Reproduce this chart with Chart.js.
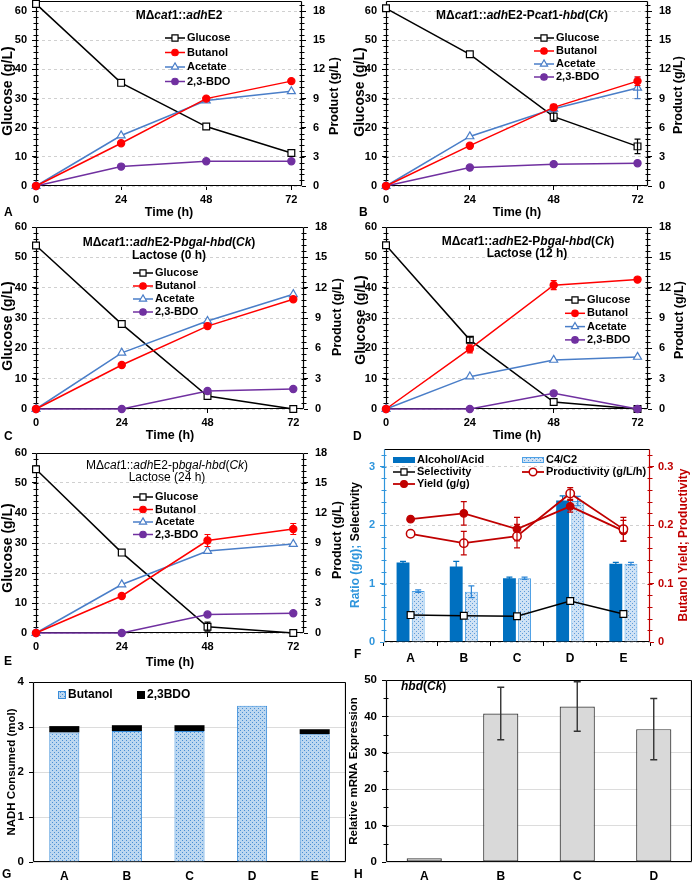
<!DOCTYPE html>
<html lang="en">
<head>
<meta charset="utf-8">
<title>Fermentaciones MΔcat1</title>
<script src="https://cdn.jsdelivr.net/npm/chart.js@4.4.1/dist/chart.umd.min.js"></script>
<style>
  html, body { margin: 0; padding: 0; background: #fff; }
  body { position: relative; width: 692px; height: 881px; overflow: hidden; }
  canvas { position: absolute; }
</style>
</head>
<body>
<script>
const FUENTE = '"Liberation Sans", Arial, Helvetica, sans-serif';

/* DATOS */
const tiempos = [0, 24, 48, 72];

// A: MΔcat1::adhE2
const glucosaA = [62.5, 35.4, 20.4, 11.3];
const butanolA = [0, 4.4, 9.0, 10.8];
const acetatoA = [0, 5.2, 8.8, 9.75];
const bdoA = [0, 2.0, 2.55, 2.55];

// B: MΔcat1::adhE2-Pcat1-hbd(Ck)
const glucosaB = [61.0, 45.2, 23.8, 13.6];
const errGlucosaB = [0, 0, 1.6, 2.5];
const butanolB = [0, 4.15, 8.1, 10.8];
const errButanolB = [0, 0, 0.3, 0.45];
const acetatoB = [0, 5.1, 7.95, 10.1];
const errAcetatoB = [0, 0, 0.3, 1.1];
const bdoB = [0, 1.9, 2.25, 2.35];

// C: Lactose (0 h)
const glucosaC = [53.9, 28.0, 4.3, 0];
const butanolC = [0, 4.35, 8.2, 10.85];
const acetatoC = [0, 5.55, 8.7, 11.35];
const bdoC = [0, 0, 1.78, 1.98];

// D: Lactose (12 h)
const glucosaD = [54.0, 22.8, 2.3, 0];
const errGlucosaD = [0, 0.9, 0, 0];
const butanolD = [0, 5.95, 12.25, 12.8];
const errButanolD = [0, 0.4, 0.45, 0];
const acetatoD = [0, 3.2, 4.85, 5.15];
const bdoD = [0, 0, 1.55, 0];

// E: Lactose (24 h)
const glucosaE = [54.6, 26.8, 2.1, 0];
const errGlucosaE = [0, 0, 1.5, 0];
const butanolE = [0, 3.7, 9.25, 10.4];
const errButanolE = [0, 0, 0.6, 0.55];
const acetatoE = [0, 4.85, 8.2, 8.9];
const bdoE = [0, 0, 1.85, 1.97];

// F: relaciones, selectividad, rendimiento y productividad
const cepas = ['A', 'B', 'C', 'D', 'E'];
const alcoholAcido = [1.36, 1.29, 1.09, 2.42, 1.34];
const errAlcoholAcido = [0.02, 0.09, 0.02, 0.08, 0.02];
const c4c2 = [0.87, 0.86, 1.09, 2.41, 1.34];
const errC4c2 = [0.02, 0.1, 0.02, 0.08, 0.02];
const selectividad = [0.46, 0.45, 0.44, 0.70, 0.48];
const rendimiento = [0.21, 0.22, 0.193, 0.232, 0.19];
const errRendimiento = [0, 0.02, 0.02, 0.01, 0.018];
const productividad = [0.185, 0.169, 0.181, 0.254, 0.193];
const errProductividad = [0, 0.02, 0.02, 0.01, 0.02];

// G: NADH consumido
const nadhButanol = [2.88, 2.91, 2.91, 3.47, 2.84];
const nadhBdo = [0.14, 0.13, 0.13, 0, 0.11];

// H: expresion relativa hbd(Ck)
const cepasH = ['A', 'B', 'C', 'D'];
const expresion = [1.0, 40.8, 42.7, 36.5];
const errExpresion = [0, 7.2, 6.8, 8.4];

/* ESTILOS */
const estilos = {
    glucosa: { borderColor: '#000000', pointStyle: 'rect', pointRadius: 4.8, pointBackgroundColor: '#ffffff', pointBorderColor: '#000000' },
    butanol: { borderColor: '#FF0000', pointStyle: 'circle', pointRadius: 3.6, pointBackgroundColor: '#FF0000', pointBorderColor: '#FF0000' },
    acetato: { borderColor: '#4A7EC8', pointStyle: 'triangle', pointRadius: 4.6, pointBackgroundColor: '#ffffff', pointBorderColor: '#4A7EC8' },
    bdo: { borderColor: '#7030A0', pointStyle: 'circle', pointRadius: 3.6, pointBackgroundColor: '#7030A0', pointBorderColor: '#7030A0' }
};

function crearTrama(fondo, punto) {
    const c = document.createElement('canvas');
    c.width = 4; c.height = 4;
    const g = c.getContext('2d');
    g.fillStyle = fondo; g.fillRect(0, 0, 4, 4);
    g.fillStyle = punto;
    g.fillRect(0, 0, 1, 1); g.fillRect(2, 2, 1, 1);
    return g.createPattern(c, 'repeat');
}

// el lienzo empieza 20 px sobre el area de trazado, asi las etiquetas no empujan el area
function ajustarCaja(caja, area) {
    const arriba = area.t - 20;
    return { x: caja.x, y: arriba, w: caja.w, h: caja.y + caja.h - arriba };
}

/* TEXTOS (con _cursiva_) */
function partir(m) {
    return m.split('_').map((t, k) => ({ t: t, i: k % 2 === 1 })).filter(s => s.t);
}

function dibujarTexto(ctx, it) {
    const segs = typeof it.t === 'string' ? partir(it.t) : it.t;
    const tam = it.tam || 12, peso = it.peso || 'bold';
    const fuenteDe = s => (s.i ? 'italic ' : '') + peso + ' ' + tam + 'px ' + FUENTE;
    let total = 0;
    segs.forEach(s => { ctx.font = fuenteDe(s); s.w = ctx.measureText(s.t).width; total += s.w; });
    ctx.save();
    ctx.translate(it.x, it.y);
    if (it.rot) ctx.rotate(it.rot);
    ctx.textBaseline = 'middle';
    ctx.textAlign = 'left';
    let x = it.alinear === 'left' ? 0 : -total / 2;
    segs.forEach(s => {
        ctx.font = fuenteDe(s);
        ctx.fillStyle = s.c || it.color || '#000';
        ctx.fillText(s.t, x, 0);
        x += s.w;
    });
    ctx.restore();
}

/* PLUGINS */
function pluginTextos(caja, items) {
    return {
        id: 'textos',
        afterDraw(chart) {
            const ctx = chart.ctx;
            ctx.save();
            ctx.translate(-caja.x, -caja.y);
            items.forEach(it => dibujarTexto(ctx, it));
            ctx.restore();
        }
    };
}

function pluginLeyenda(caja, entradas, tam) {
    return {
        id: 'leyenda',
        afterDraw(chart) {
            const ctx = chart.ctx;
            ctx.save();
            ctx.translate(-caja.x, -caja.y);
            entradas.forEach(en => {
                const ds = chart.data.datasets[en.ds];
                const largo = en.largo || 20;
                if (en.tipo === 'caja') {
                    ctx.fillStyle = ds.backgroundColor;
                    ctx.fillRect(en.x, en.y - en.alto / 2, largo, en.alto);
                    if (ds.borderWidth) {
                        ctx.strokeStyle = ds.borderColor; ctx.lineWidth = 1;
                        ctx.strokeRect(en.x + 0.5, en.y - en.alto / 2 + 0.5, largo - 1, en.alto - 1);
                    }
                } else {
                    ctx.strokeStyle = ds.borderColor; ctx.lineWidth = ds.borderWidth || 1.5;
                    ctx.beginPath(); ctx.moveTo(en.x, en.y); ctx.lineTo(en.x + largo, en.y); ctx.stroke();
                    ctx.fillStyle = ds.pointBackgroundColor;
                    ctx.strokeStyle = ds.pointBorderColor;
                    ctx.lineWidth = ds.pointBorderWidth || 1.2;
                    Chart.helpers.drawPoint(ctx, { pointStyle: ds.pointStyle, radius: ds.pointRadius * 0.9, rotation: 0, borderWidth: 1 }, en.x + largo / 2, en.y);
                }
                dibujarTexto(ctx, { t: ds.label, x: en.x + largo + 2, y: en.y, tam: tam || 11, alinear: 'left' });
            });
            ctx.restore();
        }
    };
}

const pluginErrores = {
    id: 'errores',
    afterDatasetDraw(chart, args) {
        const ds = chart.data.datasets[args.index];
        if (!ds.errores) return;
        const meta = args.meta;
        const escalaY = chart.scales[meta.yAxisID];
        const ctx = chart.ctx;
        const capa = ds.capaError || 3;
        ctx.save();
        ctx.strokeStyle = ds.colorError || ds.borderColor;
        ctx.lineWidth = ds.grosorError || 1.2;
        meta.data.forEach((el, i) => {
            const e = ds.errores[i];
            if (!e) return;
            const v = typeof ds.data[i] === 'object' ? ds.data[i].y : ds.data[i];
            const y1 = escalaY.getPixelForValue(v + e);
            const y2 = escalaY.getPixelForValue(v - e);
            ctx.beginPath();
            ctx.moveTo(el.x, y1); ctx.lineTo(el.x, y2);
            ctx.moveTo(el.x - capa, y1); ctx.lineTo(el.x + capa, y1);
            ctx.moveTo(el.x - capa, y2); ctx.lineTo(el.x + capa, y2);
            ctx.stroke();
        });
        ctx.restore();
    }
};

function pluginMarco(colores) {
    const c = Object.assign({ arriba: '#000', abajo: '#000', izq: '#000', der: '#000' }, colores || {});
    return {
        id: 'marco',
        beforeDatasetsDraw(chart) {
            const ctx = chart.ctx, a = chart.chartArea;
            const l = Math.round(a.left) + 0.5, r = Math.round(a.right) - 0.5;
            const t = Math.round(a.top) + 0.5, b = Math.round(a.bottom) - 0.5;
            const linea = (x1, y1, x2, y2, col) => {
                ctx.strokeStyle = col; ctx.beginPath(); ctx.moveTo(x1, y1); ctx.lineTo(x2, y2); ctx.stroke();
            };
            ctx.save();
            ctx.lineWidth = 1.2;
            linea(l, t, r, t, c.arriba);
            linea(l, b, r, b, c.abajo);
            linea(l, t, l, b, c.izq);
            linea(r, t, r, b, c.der);
            ctx.restore();
        }
    };
}

function pluginMenores(lista) {
    return {
        id: 'menores',
        beforeDatasetsDraw(chart) {
            const ctx = chart.ctx, a = chart.chartArea;
            lista.forEach(m => {
                const s = chart.scales[m.eje];
                const x = m.lado === 'der' ? Math.round(a.right) : Math.round(a.left);
                ctx.save();
                ctx.strokeStyle = m.color || '#000';
                ctx.lineWidth = 1;
                ctx.beginPath();
                for (let k = 1; k * m.paso < s.max - 1e-9; k++) {
                    const y = Math.round(s.getPixelForValue(k * m.paso)) + 0.5;
                    ctx.moveTo(x - 2.5, y); ctx.lineTo(x + 2.5, y);
                }
                ctx.stroke();
                ctx.restore();
            });
        }
    };
}

/* VISTA */
const Vista = {
    crearLienzo: function (caja) {
        const c = document.createElement('canvas');
        c.width = caja.w; c.height = caja.h;
        c.style.left = caja.x + 'px';
        c.style.top = caja.y + 'px';
        document.body.appendChild(c);
        return c;
    },

    fuenteTicks: function (tam) {
        return { size: tam || 11, weight: 'bold', family: FUENTE };
    },

    opcionesBase: function (caja, area) {
        return {
            animation: false, responsive: false, devicePixelRatio: 1, events: [],
            layout: { padding: { top: area.t - caja.y, left: 0, right: 0, bottom: 0 } },
            plugins: { legend: { display: false }, tooltip: { enabled: false } }
        };
    },

    serie: function (etiqueta, datos, errores, estilo, eje) {
        return Object.assign({
            type: 'line', label: etiqueta,
            data: tiempos.map((t, i) => ({ x: t, y: datos[i] })),
            errores: errores || null, colorError: estilo.borderColor,
            yAxisID: eje, borderWidth: 1.5, tension: 0, pointBorderWidth: 1.2, clip: false
        }, estilo);
    },

    /* Paneles A-E: cinetica de fermentacion */
    panelTiempo: function (p) {
        const area = p.area;
        const caja = ajustarCaja(p.caja, area);
        const lienzo = Vista.crearLienzo(caja);
        const datasets = [
            Vista.serie('Butanol', p.butanol, p.errButanol, estilos.butanol, 'y2'),
            Vista.serie('Acetate', p.acetato, p.errAcetato, estilos.acetato, 'y2'),
            Vista.serie('2,3-BDO', p.bdo, null, estilos.bdo, 'y2'),
            Vista.serie('Glucose', p.glucosa, p.errGlucosa, estilos.glucosa, 'y')
        ];
        const opciones = Vista.opcionesBase(caja, area);
        opciones.scales = {
            x: {
                type: 'linear', min: 0, max: 75,
                ticks: { stepSize: 24, includeBounds: false, font: Vista.fuenteTicks(11), color: '#000', padding: 3, maxRotation: 0 },
                grid: { drawOnChartArea: false, tickLength: 4, tickColor: '#000' },
                border: { display: false },
                title: {
                    display: true, text: 'Time (h)', color: '#000',
                    font: { size: 12.5, weight: 'bold', family: FUENTE },
                    padding: { top: 0, bottom: (caja.y + caja.h) - p.tiempoY - 7.5 }
                },
                afterFit: s => { s.height = caja.y + caja.h - area.b; }
            },
            y: {
                position: 'left', min: 0, max: p.maxG,
                ticks: { stepSize: 10, includeBounds: false, font: Vista.fuenteTicks(11), color: '#000', padding: 5 },
                grid: { color: '#d0d0d0', tickColor: '#000', tickLength: 4 },
                border: { display: false, dash: [3, 3] },
                afterFit: s => { s.width = area.l - caja.x; }
            },
            y2: {
                position: 'right', min: 0, max: p.maxG * 0.3,
                ticks: { stepSize: 3, includeBounds: false, font: Vista.fuenteTicks(11), color: '#000', padding: 7 },
                grid: { drawOnChartArea: false, tickColor: '#000', tickLength: 4 },
                border: { display: false },
                afterFit: s => { s.width = caja.x + caja.w - area.r; }
            }
        };
        const textos = p.titulo.map(l => ({ t: l.t, x: l.x, y: l.y, tam: 12, peso: p.pesoTitulo || 'bold' }));
        textos.push({ t: p.letra.t, x: p.letra.x, y: p.letra.y, tam: 12, alinear: 'left' });
        textos.push({ t: 'Glucose (g/L)', x: p.ejes.izq[0], y: p.ejes.izq[1], tam: 14, rot: -Math.PI / 2 });
        textos.push({ t: 'Product (g/L)', x: p.ejes.der[0], y: p.ejes.der[1], tam: 12.5, rot: -Math.PI / 2 });
        // orden de la leyenda: Glucose, Butanol, Acetate, 2,3-BDO
        const entradas = [3, 0, 1, 2].map((d, k) => ({ ds: d, x: p.leyenda.x, y: p.leyenda.y + k * p.leyenda.dy, largo: 20 }));

        return new Chart(lienzo, {
            type: 'line',
            data: { datasets: datasets },
            options: opciones,
            plugins: [pluginMarco(), pluginMenores([{ eje: 'y', paso: 2 }, { eje: 'y2', paso: 0.6, lado: 'der' }]),
                pluginErrores, pluginLeyenda(caja, entradas, 11), pluginTextos(caja, textos)]
        });
    },

    /* Panel F */
    panelF: function () {
        const area = { l: 384, t: 449, r: 650, b: 642 };
        const caja = ajustarCaja({ x: 346, y: 444, w: 346, h: 228 }, area);
        const lienzo = Vista.crearLienzo(caja);
        const azul = '#2F95DC', rojo = '#C00000';
        const trama = crearTrama('#cfe2f5', '#5d9bd9');
        const opciones = Vista.opcionesBase(caja, area);
        opciones.scales = {
            x: {
                type: 'category', offset: true,
                ticks: { font: Vista.fuenteTicks(12), color: '#000', padding: 5 },
                grid: { offset: true, drawOnChartArea: false, tickLength: 4, tickColor: '#000' },
                border: { display: false },
                afterFit: s => { s.height = caja.y + caja.h - area.b; }
            },
            y: {
                position: 'left', min: 0, max: 3.3,
                ticks: { stepSize: 1, includeBounds: false, font: Vista.fuenteTicks(11), color: azul, padding: 5 },
                grid: { color: '#d0d0d0', tickColor: azul, tickLength: 4 },
                border: { display: false, dash: [3, 3] },
                afterFit: s => { s.width = area.l - caja.x; }
            },
            y2: {
                position: 'right', min: 0, max: 0.33,
                ticks: { stepSize: 0.1, includeBounds: false, font: Vista.fuenteTicks(11), color: rojo, padding: 4 },
                grid: { drawOnChartArea: false, tickColor: rojo, tickLength: 4 },
                border: { display: false },
                afterFit: s => { s.width = caja.x + caja.w - area.r; }
            }
        };
        const datasets = [
            { type: 'bar', label: 'Alcohol/Acid', data: alcoholAcido, backgroundColor: '#0070C0', borderWidth: 0, yAxisID: 'y',
              errores: errAlcoholAcido, colorError: '#0070C0', order: 3, categoryPercentage: 0.57, barPercentage: 0.85 },
            { type: 'bar', label: 'C4/C2', data: c4c2, backgroundColor: trama, borderColor: '#4EA1E6', borderWidth: 1, yAxisID: 'y',
              errores: errC4c2, colorError: '#2E86D6', order: 3, categoryPercentage: 0.57, barPercentage: 0.85 },
            { type: 'line', label: 'Selectivity', data: selectividad, borderColor: '#000', borderWidth: 1.5, pointStyle: 'rect',
              pointRadius: 4.8, pointBackgroundColor: '#fff', pointBorderColor: '#000', pointBorderWidth: 1.2, yAxisID: 'y', order: 1, clip: false },
            { type: 'line', label: 'Productivity (g/L/h)', data: productividad, borderColor: rojo, borderWidth: 1.8, pointStyle: 'circle',
              pointRadius: 4.2, pointBackgroundColor: '#fff', pointBorderColor: rojo, pointBorderWidth: 1.5, yAxisID: 'y2',
              errores: errProductividad, colorError: rojo, order: 1, clip: false },
            { type: 'line', label: 'Yield (g/g)', data: rendimiento, borderColor: rojo, borderWidth: 1.8, pointStyle: 'circle',
              pointRadius: 3.8, pointBackgroundColor: rojo, pointBorderColor: rojo, pointBorderWidth: 1.2, yAxisID: 'y2',
              errores: errRendimiento, colorError: rojo, order: 1, clip: false }
        ];
        const entradas = [
            { ds: 0, tipo: 'caja', x: 393, y: 460, largo: 22, alto: 6 },
            { ds: 1, tipo: 'caja', x: 522, y: 460, largo: 22, alto: 6 },
            { ds: 2, x: 393, y: 472, largo: 22 },
            { ds: 3, x: 522, y: 472, largo: 22 },
            { ds: 4, x: 393, y: 484, largo: 22 }
        ];
        const textos = [
            { t: 'F', x: 354, y: 655, tam: 12, alinear: 'left' },
            { t: [{ t: 'Ratio (g/g); ', c: azul }, { t: 'Selectivity', c: '#000' }], x: 356, y: 545, tam: 12, rot: -Math.PI / 2 },
            { t: 'Butanol Yield; Productivity', x: 684, y: 545, tam: 12, color: rojo, rot: -Math.PI / 2 }
        ];
        return new Chart(lienzo, {
            type: 'bar',
            data: { labels: cepas, datasets: datasets },
            options: opciones,
            plugins: [pluginMarco({ izq: azul, der: rojo }),
                pluginMenores([{ eje: 'y', paso: 0.2, color: azul }, { eje: 'y2', paso: 0.02, lado: 'der', color: rojo }]),
                pluginErrores, pluginLeyenda(caja, entradas, 11), pluginTextos(caja, textos)]
        });
    },

    /* Panel G */
    panelG: function () {
        const area = { l: 33, t: 682, r: 306, b: 862 };
        const caja = ajustarCaja({ x: 0, y: 672, w: 346, h: 209 }, area);
        const lienzo = Vista.crearLienzo(caja);
        const trama = crearTrama('#bcd7f0', '#4a8fd4');
        const opciones = Vista.opcionesBase(caja, area);
        opciones.datasets = { bar: { categoryPercentage: 0.48, barPercentage: 1 } };
        opciones.scales = {
            x: {
                type: 'category', stacked: true,
                ticks: { font: Vista.fuenteTicks(12), color: '#000', padding: 7 },
                grid: { display: false, drawTicks: false },
                border: { display: false },
                afterFit: s => { s.height = caja.y + caja.h - area.b; }
            },
            y: {
                stacked: true, min: 0, max: 4,
                ticks: { stepSize: 1, font: Vista.fuenteTicks(11.5), color: '#000', padding: 5 },
                grid: { color: '#dcdcdc', tickColor: '#000', tickLength: 4 },
                border: { display: false },
                afterFit: s => { s.width = area.l - caja.x; }
            }
        };
        const datasets = [
            { label: 'Butanol', data: nadhButanol, backgroundColor: trama, borderColor: '#3A8DDA', borderWidth: 1 },
            { label: '2,3BDO', data: nadhBdo, backgroundColor: '#000', borderWidth: 0 }
        ];
        const entradas = [
            { ds: 0, tipo: 'caja', x: 58, y: 695, largo: 8, alto: 8 },
            { ds: 1, tipo: 'caja', x: 137, y: 695, largo: 8, alto: 8 }
        ];
        const textos = [
            { t: 'G', x: 2, y: 875, tam: 12, alinear: 'left' },
            { t: 'NADH Consumed (mol)', x: 12, y: 772, tam: 11.5, rot: -Math.PI / 2 }
        ];
        return new Chart(lienzo, {
            type: 'bar',
            data: { labels: cepas, datasets: datasets },
            options: opciones,
            plugins: [pluginMarco(), pluginLeyenda(caja, entradas, 12), pluginTextos(caja, textos)]
        });
    },

    /* Panel H */
    panelH: function () {
        const area = { l: 386, t: 680, r: 650, b: 862 };
        const caja = ajustarCaja({ x: 346, y: 672, w: 346, h: 209 }, area);
        const lienzo = Vista.crearLienzo(caja);
        const opciones = Vista.opcionesBase(caja, area);
        opciones.scales = {
            x: {
                type: 'category',
                ticks: { font: Vista.fuenteTicks(12), color: '#000', padding: 7 },
                grid: { display: false, drawTicks: false },
                border: { display: false },
                afterFit: s => { s.height = caja.y + caja.h - area.b; }
            },
            y: {
                min: 0, max: 50,
                ticks: { stepSize: 10, font: Vista.fuenteTicks(11.5), color: '#000', padding: 5 },
                grid: { color: '#dcdcdc', tickColor: '#000', tickLength: 4 },
                border: { display: false },
                afterFit: s => { s.width = area.l - caja.x; }
            }
        };
        const datasets = [
            { label: 'hbd(Ck)', data: expresion, backgroundColor: '#d9d9d9', borderColor: '#3a3a3a', borderWidth: 1.2,
              borderSkipped: false, categoryPercentage: 0.46, barPercentage: 1,
              errores: errExpresion, colorError: '#333', grosorError: 1.4, capaError: 3.5 }
        ];
        const textos = [
            { t: 'H', x: 354, y: 875, tam: 12, alinear: 'left' },
            { t: '_hbd_(_Ck_)', x: 401, y: 687, tam: 12, alinear: 'left' },
            { t: 'Relative mRNA Expression', x: 354, y: 771, tam: 11.5, rot: -Math.PI / 2 }
        ];
        return new Chart(lienzo, {
            type: 'bar',
            data: { labels: cepasH, datasets: datasets },
            options: opciones,
            plugins: [pluginMarco(), pluginMenores([{ eje: 'y', paso: 5 }]), pluginErrores, pluginTextos(caja, textos)]
        });
    }
};

/* PANELES A-E */
const panelesTiempo = [
    {
        caja: { x: 0, y: 0, w: 346, h: 222 }, area: { l: 36, t: 1, r: 302, b: 186 }, maxG: 63.5,
        glucosa: glucosaA, butanol: butanolA, acetato: acetatoA, bdo: bdoA,
        titulo: [{ t: 'MΔ_cat_1::_adh_E2', x: 179, y: 16 }],
        leyenda: { x: 165, y: 38, dy: 14.5 }, letra: { t: 'A', x: 4, y: 213 }, tiempoY: 213,
        ejes: { izq: [8, 91], der: [335, 96] }
    },
    {
        caja: { x: 346, y: 0, w: 346, h: 222 }, area: { l: 386, t: 1, r: 648, b: 186 }, maxG: 63.5,
        glucosa: glucosaB, errGlucosa: errGlucosaB, butanol: butanolB, errButanol: errButanolB,
        acetato: acetatoB, errAcetato: errAcetatoB, bdo: bdoB,
        titulo: [{ t: 'MΔ_cat_1::_adh_E2-P_cat_1-_hbd_(_Ck_)', x: 522, y: 16 }],
        leyenda: { x: 534, y: 38, dy: 13 }, letra: { t: 'B', x: 359, y: 213 }, tiempoY: 213,
        ejes: { izq: [360, 92], der: [679, 95] }
    },
    {
        caja: { x: 0, y: 222, w: 346, h: 222 }, area: { l: 36, t: 227, r: 304, b: 409 }, maxG: 60,
        glucosa: glucosaC, butanol: butanolC, acetato: acetatoC, bdo: bdoC,
        titulo: [{ t: 'MΔ_cat_1::_adh_E2-P_bgal_-_hbd_(_Ck_)', x: 169, y: 243 }, { t: 'Lactose (0 h)', x: 169, y: 256 }],
        leyenda: { x: 133, y: 273, dy: 13 }, letra: { t: 'C', x: 4, y: 437 }, tiempoY: 436,
        ejes: { izq: [8, 326], der: [338, 317] }
    },
    {
        caja: { x: 346, y: 222, w: 346, h: 222 }, area: { l: 386, t: 227, r: 648, b: 409 }, maxG: 60,
        glucosa: glucosaD, errGlucosa: errGlucosaD, butanol: butanolD, errButanol: errButanolD,
        acetato: acetatoD, bdo: bdoD,
        titulo: [{ t: 'MΔ_cat_1::_adh_E2-P_bgal_-_hbd_(_Ck_)', x: 528, y: 242 }, { t: 'Lactose (12 h)', x: 527, y: 254 }],
        leyenda: { x: 565, y: 300, dy: 13.3 }, letra: { t: 'D', x: 353, y: 437 }, tiempoY: 436,
        ejes: { izq: [361, 320], der: [680, 320] }
    },
    {
        caja: { x: 0, y: 444, w: 346, h: 228 }, area: { l: 36, t: 453, r: 304, b: 633 }, maxG: 60,
        glucosa: glucosaE, errGlucosa: errGlucosaE, butanol: butanolE, errButanol: errButanolE,
        acetato: acetatoE, bdo: bdoE, pesoTitulo: 'normal',
        titulo: [{ t: 'MΔ_cat_1::_adh_E2-p_bgal_-_hbd_(_Ck_)', x: 167, y: 466 }, { t: 'Lactose (24 h)', x: 167, y: 478 }],
        leyenda: { x: 133, y: 497, dy: 12.5 }, letra: { t: 'E', x: 4, y: 662 }, tiempoY: 663,
        ejes: { izq: [8, 548], der: [338, 540] }
    }
];

document.addEventListener('DOMContentLoaded', function () {
    Chart.defaults.font.family = FUENTE;
    Chart.defaults.color = '#000';
    panelesTiempo.forEach(p => Vista.panelTiempo(p));
    Vista.panelF();
    Vista.panelG();
    Vista.panelH();
});
</script>
</body>
</html>
